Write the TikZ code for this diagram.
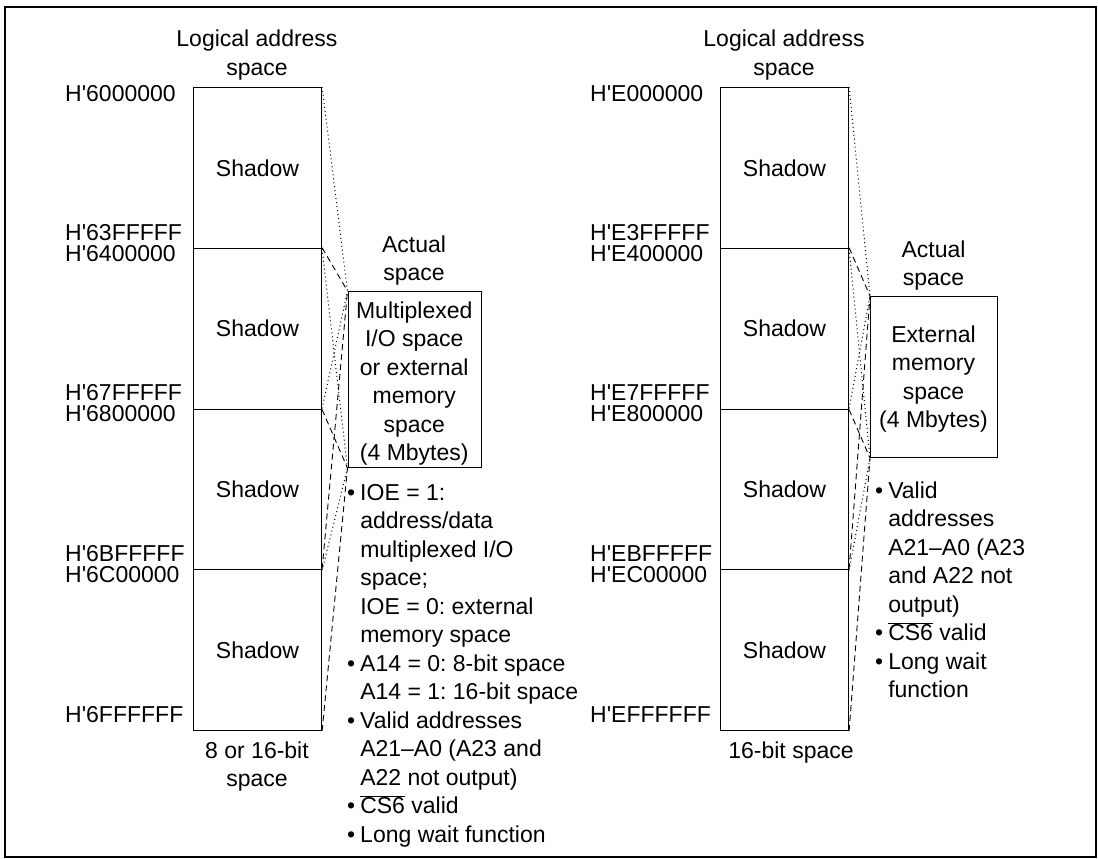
\documentclass[tikz,border=0pt]{standalone}
\usepackage{fontspec}
\setmainfont{Liberation Sans}
\newcommand{\mlc}[1]{\begin{tabular}[t]{@{}c@{}}#1\end{tabular}}
\newcommand{\hq}{\textquotesingle}
\frenchspacing
\begin{document}
\begin{tikzpicture}[x=1pt,y=-1pt,
  font=\fontsize{23}{28.5}\selectfont,
  blk/.style={draw, line width=1.1pt, minimum width=128pt, minimum height=160.75pt, inner sep=0pt, anchor=north west},
  actual/.style={draw, line width=1.1pt, inner sep=0pt, anchor=north west},
  addr/.style={anchor=base west, inner sep=0pt},
  lbl/.style={anchor=base, inner sep=0pt},
  dotl/.style={line width=1pt, dash pattern=on 1pt off 3pt},
  dashl/.style={line width=0.9pt, dash pattern=on 6pt off 4pt}]
\useasboundingbox (0,0) rectangle (1098,859);
\draw[line width=1.4pt] (5,7) rectangle (1096,857);

% ---------- left panel ----------
\node[lbl] (LT) at (257,47) {\mlc{Logical address\\space}};
\node[blk] (L1) at (193,87) {Shadow};
\node[blk] (L2) at (193,247.75) {Shadow};
\node[blk] (L3) at (193,408.5) {Shadow};
\node[blk] (L4) at (193,569.25) {Shadow};
\node[lbl] (LB) at (257,758) {\mlc{8 or 16-bit\\space}};

\node[addr] (la0) at (65,101) {H\hq 6000000};
\node[addr] (la1) at (65,240) {H\hq 63FFFFF};
\node[addr] (la2) at (65,261) {H\hq 6400000};
\node[addr] (la3) at (65,400.5) {H\hq 67FFFFF};
\node[addr] (la4) at (65,421.5) {H\hq 6800000};
\node[addr] (la5) at (65,561) {H\hq 6BFFFFF};
\node[addr] (la6) at (65,582) {H\hq 6C00000};
\node[addr] (la7) at (65,722) {H\hq 6FFFFFF};

\node[lbl] (LAT) at (414,252) {\mlc{Actual\\space}};
\node[actual, minimum width=133.5pt, minimum height=176pt] (LA) at (347.5,291) {};
\node[lbl] (LAX) at (414.25,318) {\mlc{Multiplexed\\I/O space\\or external\\memory\\space\\(4 Mbytes)}};

\draw[dotl] (L1.north east) -- (LA.north west);
\draw[dotl] (L1.south east) -- (LA.south west);
\draw[dashl] (L2.north east) -- (LA.north west);
\draw[dashl] (L2.south east) -- (LA.south west);
\draw[dotl] (L3.north east) -- (LA.north west);
\draw[dotl] (L3.south east) -- (LA.south west);
\draw[dashl] (L4.north east) -- (LA.north west);
\draw[dashl] (L4.south east) -- (LA.south west);

\node[anchor=base west, inner sep=0pt] (LN) at (347,500) {%
\begin{tabular}[t]{@{}l@{\hspace{5pt}}l@{}}
\textbullet & IOE = 1:\\
 & address/data\\
 & multiplexed I/O\\
 & space;\\
 & IOE = 0: external\\
 & memory space\\
\textbullet & A14 = 0: 8-bit space\\
 & A14 = 1: 16-bit space\\
\textbullet & Valid addresses\\
 & A21–A0 (A23 and\\
 & A22 not output)\\
\textbullet & $\overline{\mbox{CS6}}$ valid\\
\textbullet & Long wait function
\end{tabular}};

% ---------- right panel ----------
\node[lbl] (RT) at (784,47) {\mlc{Logical address\\space}};
\node[blk] (R1) at (720,87) {Shadow};
\node[blk] (R2) at (720,247.75) {Shadow};
\node[blk] (R3) at (720,408.5) {Shadow};
\node[blk] (R4) at (720,569.25) {Shadow};
\node[lbl] (RB) at (791,758) {16-bit space};

\node[addr] (ra0) at (590,101) {H\hq E000000};
\node[addr] (ra1) at (590,240) {H\hq E3FFFFF};
\node[addr] (ra2) at (590,261) {H\hq E400000};
\node[addr] (ra3) at (590,400.5) {H\hq E7FFFFF};
\node[addr] (ra4) at (590,421.5) {H\hq E800000};
\node[addr] (ra5) at (590,561) {H\hq EBFFFFF};
\node[addr] (ra6) at (590,582) {H\hq EC00000};
\node[addr] (ra7) at (590,722) {H\hq EFFFFFF};

\node[lbl] (RAT) at (933.5,257) {\mlc{Actual\\space}};
\node[actual, minimum width=127pt, minimum height=161pt] (RA) at (870,296) {};
\node[lbl] (RAX) at (933.5,342) {\mlc{External\\memory\\space\\(4 Mbytes)}};

\draw[dotl] (R1.north east) -- (RA.north west);
\draw[dotl] (R1.south east) -- (RA.south west);
\draw[dashl] (R2.north east) -- (RA.north west);
\draw[dashl] (R2.south east) -- (RA.south west);
\draw[dotl] (R3.north east) -- (RA.north west);
\draw[dotl] (R3.south east) -- (RA.south west);
\draw[dashl] (R4.north east) -- (RA.north west);
\draw[dashl] (R4.south east) -- (RA.south west);

\node[anchor=base west, inner sep=0pt] (RN) at (875,498) {%
\begin{tabular}[t]{@{}l@{\hspace{5pt}}l@{}}
\textbullet & Valid\\
 & addresses\\
 & A21–A0 (A23\\
 & and A22 not\\
 & output)\\
\textbullet & $\overline{\mbox{CS6}}$ valid\\
\textbullet & Long wait\\
 & function
\end{tabular}};
\end{tikzpicture}
\end{document}
